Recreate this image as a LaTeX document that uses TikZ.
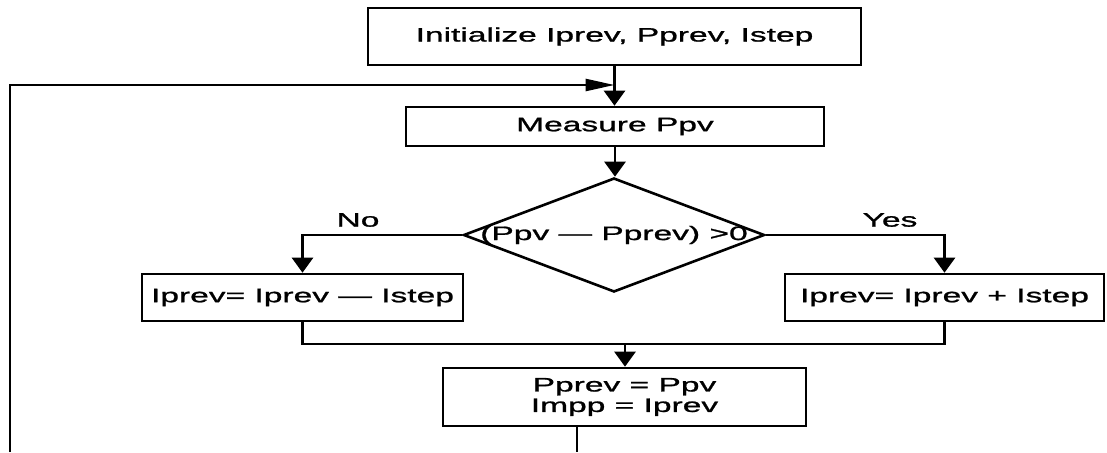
\documentclass[tikz,border=0pt]{standalone}
\usepackage{fontspec}
\setmainfont{Liberation Sans}[FakeStretch=1.72,FakeBold=1.2]
\usetikzlibrary{shapes.geometric,arrows.meta}

\begin{document}
\begin{tikzpicture}[x=1pt,y=-1pt,
  every node/.style={font=\fontsize{19.5}{20.5}\selectfont},
  box/.style={draw,line width=2.6pt,inner sep=0pt,align=center},
  dia/.style={draw,diamond,line width=2.6pt,inner sep=0pt},
  flow/.style={line width=2.6pt},
  down/.style={flow,-{Triangle[length=15pt,width=21pt]}},
  fwd/.style={flow,-{Triangle[length=29pt,width=12pt]}}]

  \useasboundingbox (0,0) rectangle (1107,452);

  % process steps
  \node[box,minimum width=493pt,minimum height=57pt] (init) at (614.5,36.5)
    {Initialize Iprev, Pprev, Istep};
  \node[box,minimum width=418pt,minimum height=39pt] (measure) at (615,126.5)
    {Measure Ppv};
  \node[dia,minimum width=301pt,minimum height=114pt] (dec) at (614,235)
    {\makebox[0pt]{(Ppv — Pprev) >0}};
  \node[box,minimum width=321pt,minimum height=47pt] (nobox) at (302.5,297.5)
    {Iprev= Iprev — Istep};
  \node[box,minimum width=319pt,minimum height=47pt] (yesbox) at (944.5,297.5)
    {Iprev= Iprev + Istep};
  \node[box,minimum width=363pt,minimum height=58pt] (update) at (624.5,397)
    {Pprev = Ppv\\Impp = Iprev};

  % branch labels
  \node (nolabel) at (358,220) {No};
  \node (yeslabel) at (890,220) {Yes};

  % helper points
  \coordinate (loopbot) at (10,452);
  \coordinate (loopturn) at (10,85);
  \coordinate (merge) at (625,344);
  \coordinate (exit) at (577,452);

  % connectors
  \draw[down] (init.south) -- (init.south |- measure.north);
  \draw[down] (measure.south) -- (measure.south |- dec.north);
  \draw[down] (dec.west) -| (nobox.north);
  \draw[down] (dec.east) -| (yesbox.north);
  \draw[flow] (nobox.south) -- (nobox.south |- merge) -| (yesbox.south);
  \draw[down] (merge) -- (merge |- update.north);
  \draw[flow] (update.south -| exit) -- (exit);
  \draw[fwd] (loopbot) -- (loopturn) -- (loopturn -| init.south);
\end{tikzpicture}
\end{document}
